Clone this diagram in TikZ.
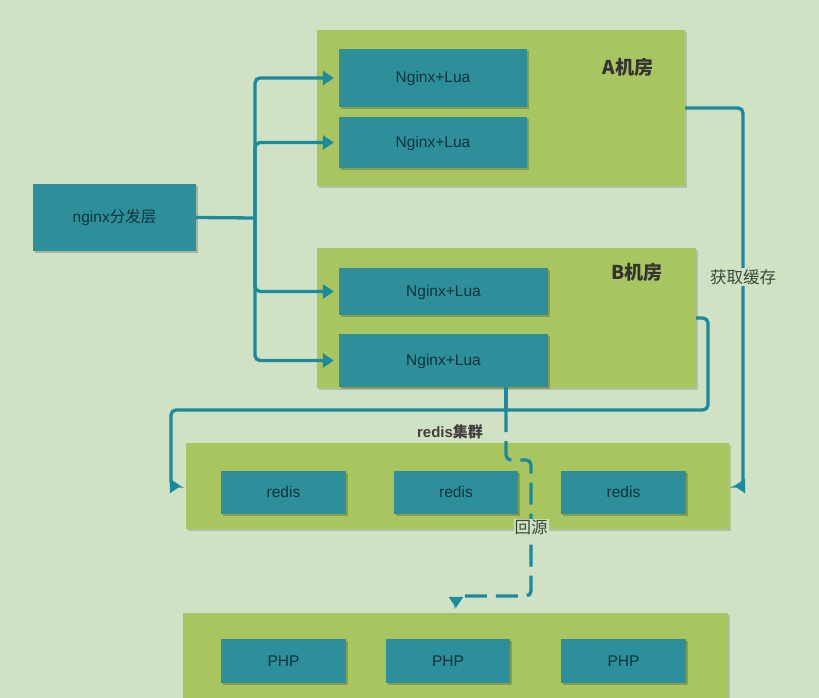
\documentclass[tikz,border=0pt]{standalone}
\usepackage{fontspec}
\setmainfont{Liberation Sans}
\newfontfamily\cjk{Noto Sans CJK SC}
\usetikzlibrary{arrows.meta,shadows}
\definecolor{bgc}{HTML}{D0E1C4}
\definecolor{contc}{HTML}{A9C55F}
\definecolor{boxc}{HTML}{2C8F99}
\definecolor{linec}{HTML}{1A8A9E}
\definecolor{boxtext}{HTML}{10323C}
\definecolor{labtext}{HTML}{3A4A3A}
\tikzset{
  container/.style={rectangle, fill=contc, inner sep=0pt,
    drop shadow={shadow xshift=2pt, shadow yshift=-2pt, fill=black, opacity=0.15}},
  srvbox/.style={rectangle, fill=boxc, inner sep=0pt, text=boxtext,
    font=\fontsize{15.5}{17}\selectfont, text height=10pt, text depth=0pt,
    drop shadow={shadow xshift=2pt, shadow yshift=-2pt, fill=black, opacity=0.2}},
  conn/.style={draw=linec, line width=3.3pt, rounded corners=5pt},
  arr/.style={conn, -{Triangle[length=11pt,width=14pt]}, shorten >=5pt},
  darr/.style={arr, dash pattern=on 22pt off 9pt},
  roomlabel/.style={text=black!80, font=\fontsize{19}{21}\selectfont\bfseries\cjk},
  edgelabel/.style={fill=bgc, text=labtext, inner sep=1pt, font=\fontsize{16.5}{18}\selectfont\cjk},
}
\begin{document}
\begin{tikzpicture}[x=1pt,y=-1pt]
\fill[bgc] (0,0) rectangle (819,698);
\useasboundingbox (0,0) rectangle (819,698);

% containers
\node[container, minimum width=368pt, minimum height=156pt] (A) at (501,108) {};
\node[container, minimum width=379pt, minimum height=140pt] (B) at (506.5,318) {};
\node[container, minimum width=543pt, minimum height=86pt] (rc) at (457.5,486) {};
\node[container, minimum width=545pt, minimum height=86pt] (pc) at (455.5,656) {};

\node[roomlabel] (Alab) at (628,67) {A机房};
\node[roomlabel] (Blab) at (637,272) {B机房};

% boxes
\node[srvbox, minimum width=163pt, minimum height=67pt] (ng) at (114.5,217.5) {nginx{\cjk 分发层}};
\node[srvbox, minimum width=188pt, minimum height=58pt] (a1) at (433,78) {Nginx+Lua};
\node[srvbox, minimum width=188pt, minimum height=51pt] (a2) at (433,142.5) {Nginx+Lua};
\node[srvbox, minimum width=209pt, minimum height=47pt] (b1) at (443.5,291.5) {Nginx+Lua};
\node[srvbox, minimum width=209pt, minimum height=53pt] (b2) at (443.5,360.5) {Nginx+Lua};

\node[srvbox, minimum width=125pt, minimum height=43pt] (r1) at (283.5,492.5) {redis};
\node[srvbox, minimum width=124pt, minimum height=43pt] (r2) at (456,492.5) {redis};
\node[srvbox, minimum width=125pt, minimum height=43pt] (r3) at (623.5,492.5) {redis};

\node[srvbox, minimum width=125pt, minimum height=44pt] (p1) at (283.5,661) {PHP};
\node[srvbox, minimum width=124pt, minimum height=44pt] (p2) at (448,661) {PHP};
\node[srvbox, minimum width=125pt, minimum height=44pt] (p3) at (623.5,661) {PHP};

% trunk from nginx
\coordinate (j) at (255,218);
\draw[conn] (ng.east) -- (j);
\draw[arr] (j) |- (a1.west);
\draw[arr] (j) |- (a2.west);
\draw[arr] (j) |- (b1.west);
\draw[arr] (j) |- (b2.west);

% A -> redis (right)
\coordinate (ra) at (743,108);
\draw[arr] (A.east) -- (ra) |- (rc.east);
\node[edgelabel] (getc) at (743,277) {获取缓存};

% B -> redis (left)
\coordinate (rb) at (708,318);
\coordinate (k) at (171,410);
\draw[arr] (B.east) -- (rb) |- (k) |- (rc.west);

% B2 -> PHP (back to source)
\coordinate (bs) at (506,387);
\coordinate (jd) at (506,410);
\draw[conn] (bs) -- (jd);
\fill[linec] (jd) circle (2.5pt);
\coordinate (d1) at (506,460);
\coordinate (d2) at (531,460);
\coordinate (d3) at (531,596);
\coordinate (d4) at (456,596);
\draw[darr] (jd) -- (d1) -- (d2) -- (d3) -- (d4) -- (d4 |- pc.north);
\node[edgelabel] (back) at (531,527) {回源};

\node[text=black!75, font=\fontsize{15}{17}\selectfont\bfseries] (rlab) at (450,432) {redis{\cjk 集群}};
\end{tikzpicture}
\end{document}
